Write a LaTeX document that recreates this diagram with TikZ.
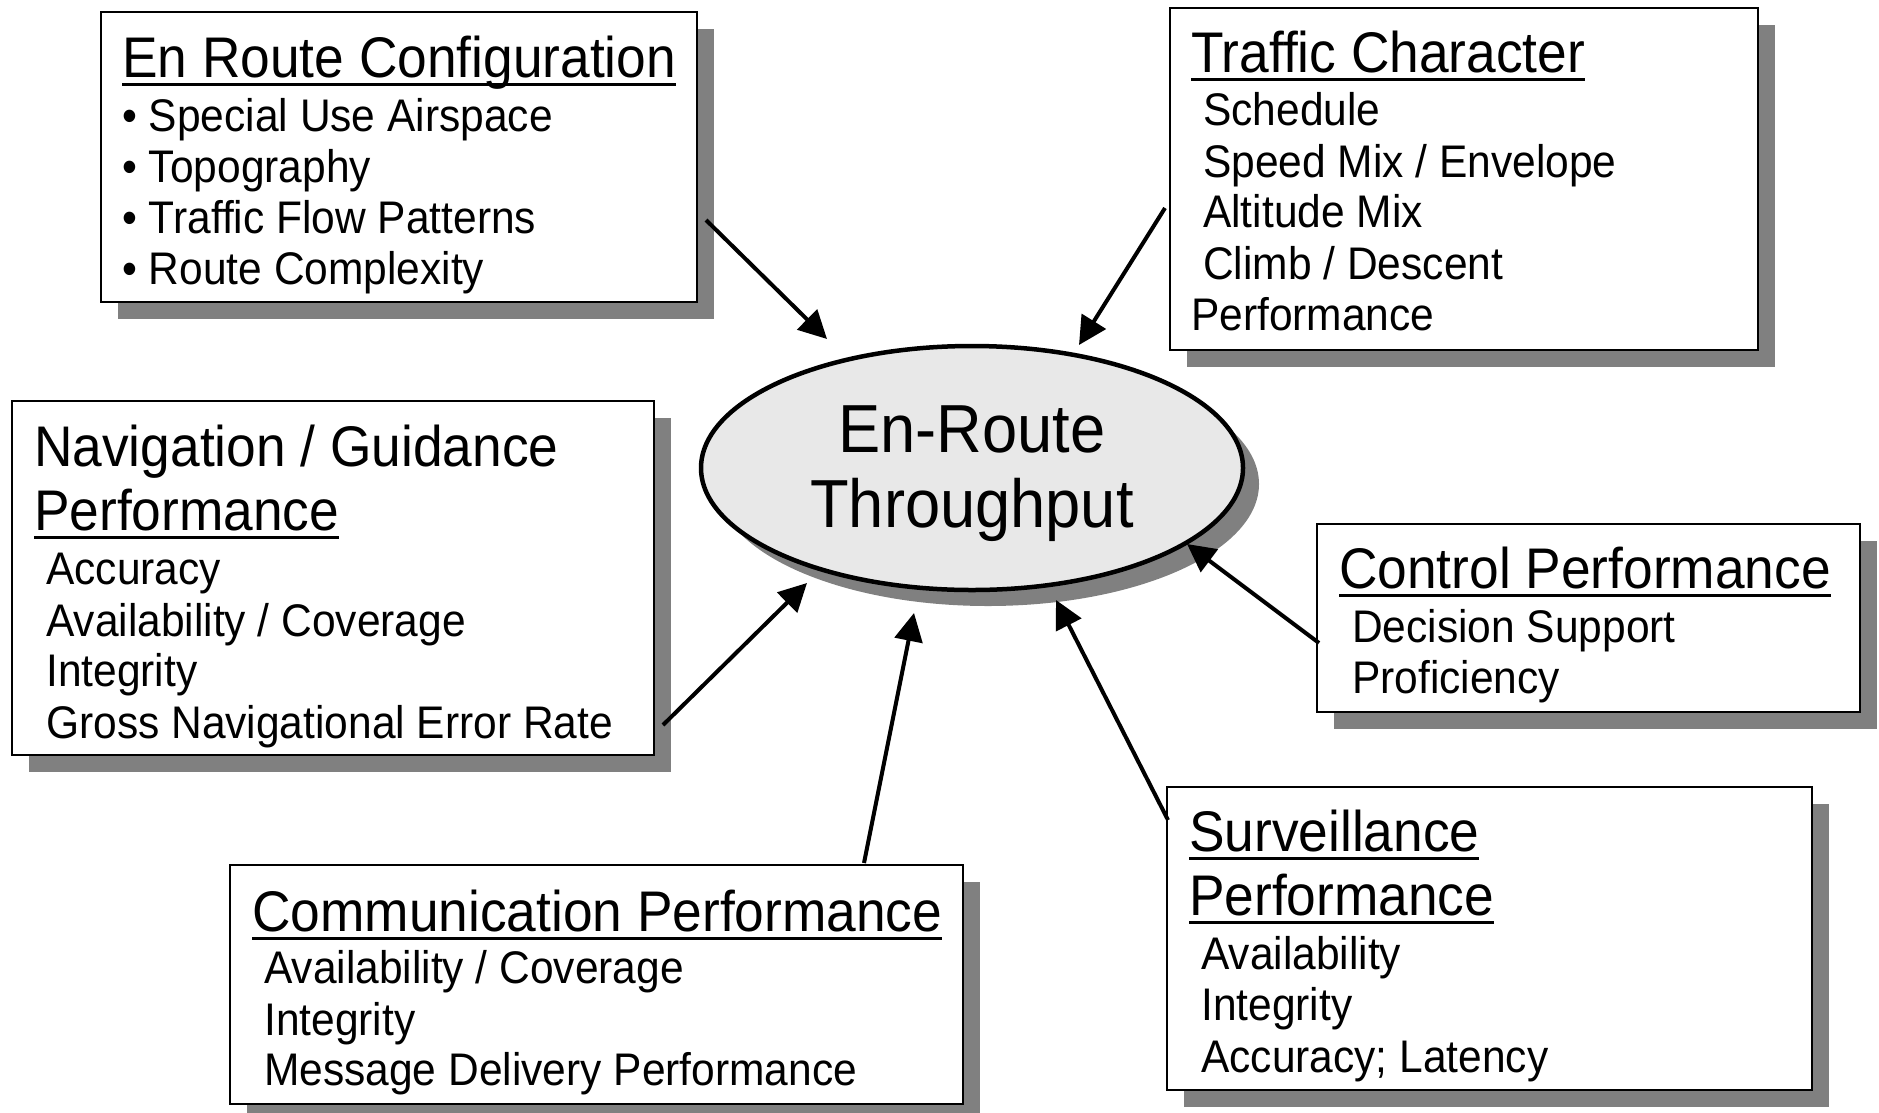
\documentclass[tikz,border=0pt]{standalone}
\usepackage{fontspec}
\setmainfont{Liberation Sans}[FakeStretch=0.93]
\usetikzlibrary{arrows.meta,shapes.geometric,shadows}
\definecolor{shadowgray}{HTML}{808080}
\definecolor{ellfill}{HTML}{E8E8E8}
\newcommand{\ulin}[1]{\setbox0=\hbox{#1}\rlap{\vrule height -0.1em depth 0.15em width \wd0}\box0}
\begin{document}
\begin{tikzpicture}[x=1pt,y=-1pt,
  box/.style={draw=black, line width=2.2pt, fill=white, anchor=north west, inner sep=0pt, outer sep=0pt,
    drop shadow={shadow xshift=17pt, shadow yshift=-17pt, fill=shadowgray, opacity=1}},
  ttl/.style={anchor=base west, inner sep=0pt, font=\fontsize{57.3}{60}\selectfont},
  itm/.style={anchor=base west, inner sep=0pt, font=\fontsize{45.7}{50}\selectfont},
  ctr/.style={anchor=base, inner sep=0pt, font=\fontsize{68}{72}\selectfont},
  arr/.style={-{Triangle[length=28pt,width=28pt]}, line width=4pt, black}
]
\useasboundingbox (0,0) rectangle (1879,1112);

% central ellipse
\node[ellipse, draw=black, line width=4.5pt, fill=ellfill, minimum width=542pt, minimum height=244pt, inner sep=0pt,
  drop shadow={shadow xshift=16pt, shadow yshift=-16pt, fill=shadowgray, opacity=1}] (thr) at (972,468) {};
\node[ctr] (thr1) at (972,452) {En-Route};
\node[ctr] (thr2) at (972,527) {Throughput};

% En Route Configuration
\node[box, minimum width=596pt, minimum height=290pt] (cfg) at (101,12) {};
\node[ttl] (cfgT) at (122,77) {\ulin{En Route Configuration}};
\node[itm] (cfg1) at (122,131) {• Special Use Airspace};
\node[itm] (cfg2) at (122,182) {• Topography};
\node[itm] (cfg3) at (122,233) {• Traffic Flow Patterns};
\node[itm] (cfg4) at (122,284) {• Route Complexity};

% Traffic Character
\node[box, minimum width=588pt, minimum height=342pt] (trf) at (1170,8) {};
\node[ttl] (trfT) at (1191,72) {\ulin{Traffic Character}};
\node[itm] (trf1) at (1203,125) {Schedule};
\node[itm] (trf2) at (1203,177) {Speed Mix / Envelope};
\node[itm] (trf3) at (1203,227) {Altitude Mix};
\node[itm] (trf4) at (1203,279) {Climb / Descent};
\node[itm] (trf5) at (1191,330) {Performance};

% Navigation / Guidance Performance
\node[box, minimum width=642pt, minimum height=354pt] (nav) at (12,401) {};
\node[ttl] (navT1) at (34,466) {Navigation / Guidance};
\node[ttl] (navT2) at (34,530) {\ulin{Performance}};
\node[itm] (nav1) at (46,584) {Accuracy};
\node[itm] (nav2) at (46,636) {Availability / Coverage};
\node[itm] (nav3) at (46,686) {Integrity};
\node[itm] (nav4) at (46,738) {Gross Navigational Error Rate};

% Control Performance
\node[box, minimum width=543pt, minimum height=188pt] (ctl) at (1317,524) {};
\node[ttl] (ctlT) at (1339,588) {\ulin{Control Performance}};
\node[itm] (ctl1) at (1352,642) {Decision Support};
\node[itm] (ctl2) at (1352,693) {Proficiency};

% Surveillance Performance
\node[box, minimum width=645pt, minimum height=303pt] (srv) at (1167,787) {};
\node[ttl] (srvT1) at (1189,851) {\ulin{Surveillance}};
\node[ttl] (srvT2) at (1189,915) {\ulin{Performance}};
\node[itm] (srv1) at (1201,969) {Availability};
\node[itm] (srv2) at (1201,1020) {Integrity};
\node[itm] (srv3) at (1201,1072) {Accuracy; Latency};

% Communication Performance
\node[box, minimum width=733pt, minimum height=239pt] (com) at (230,865) {};
\node[ttl] (comT) at (252,931) {\ulin{Communication Performance}};
\node[itm] (com1) at (264,983) {Availability / Coverage};
\node[itm] (com2) at (264,1035) {Integrity};
\node[itm] (com3) at (264,1085) {Message Delivery Performance};

% connector end points
\coordinate (s1) at (706,220);  \coordinate (e1) at (827,339);
\coordinate (s2) at (1165,208); \coordinate (e2) at (1079,345);
\coordinate (s3) at (1319,643); \coordinate (e3) at (1187,544);
\coordinate (s4) at (1168,820); \coordinate (e4) at (1056,600);
\coordinate (s5) at (864,863);  \coordinate (e5) at (914,613);
\coordinate (s6) at (663,725);  \coordinate (e6) at (807,583);

\draw[arr] (s1) -- (e1);
\draw[arr] (s2) -- (e2);
\draw[arr] (s3) -- (e3);
\draw[arr] (s4) -- (e4);
\draw[arr] (s5) -- (e5);
\draw[arr] (s6) -- (e6);
\end{tikzpicture}
\end{document}
